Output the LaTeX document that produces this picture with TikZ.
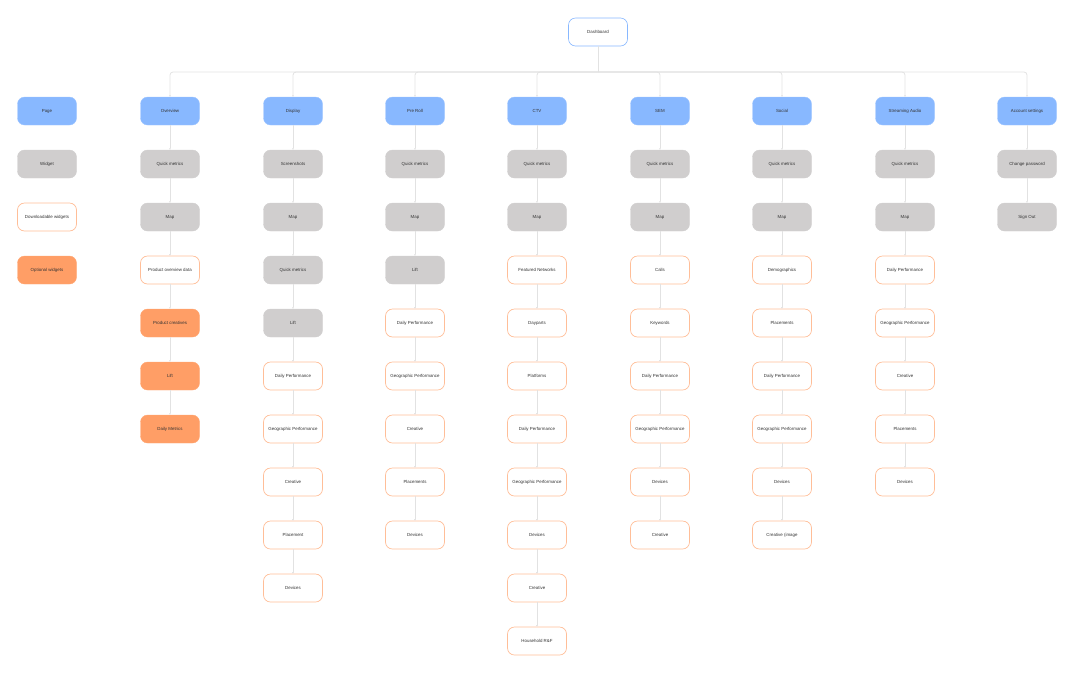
\documentclass[tikz,border=0pt]{standalone}
\usepackage{fontspec}
\setmainfont{Liberation Sans}
\usetikzlibrary{arrows.meta}
\definecolor{cblue}{HTML}{88B8FF}
\definecolor{cgray}{HTML}{D0CECE}
\definecolor{corange}{HTML}{FF9E66}
\definecolor{cborder}{HTML}{FFBE98}
\definecolor{cline}{HTML}{E2E2E2}
\definecolor{ctext}{HTML}{333333}
\begin{document}
\begin{tikzpicture}[x=1pt,y=-1pt,
 box/.style={rounded corners=7pt,minimum width=59pt,minimum height=28pt,inner sep=0pt,font=\fontsize{4.4}{5}\selectfont,text=ctext},
 pg/.style={box,fill=cblue,draw=cblue!80},
 wg/.style={box,fill=cgray,draw=cgray},
 dl/.style={box,fill=white,draw=cborder,line width=0.7pt},
 op/.style={box,fill=corange,draw=corange!90},
 ln/.style={draw=cline,line width=0.8pt,-{Triangle[length=1.5pt,width=2pt]}}]
\useasboundingbox (0,0) rectangle (1075,673);
\node[box,fill=white,draw=cblue,line width=0.6pt] (dash) at (598,32) {Dashboard};
% legend
\node[pg] (l1) at (47,111) {Page};
\node[wg] (l2) at (47,164) {Widget};
\node[dl] (l3) at (47,217) {Downloadable widgets};
\node[op] (l4) at (47,270) {Optional widgets};
\newcommand{\col}[3]{% name, x, list
 \foreach [count=\i] \st/\t in {#3} {
   \pgfmathsetmacro{\yy}{111+53*(\i-1)}
   \node[\st] (#1\i) at (#2,\yy) {\t};
 }}
\col{a}{170}{pg/Overview,wg/Quick metrics,wg/Map,dl/Product overview data,op/Product creatives,op/Lift,op/Daily Metrics}
\col{b}{293}{pg/Display,wg/Screenshots,wg/Map,wg/Quick metrics,wg/Lift,dl/Daily Performance,dl/Geographic Performance,dl/Creative,dl/Placement,dl/Devices}
\col{c}{415}{pg/Pre Roll,wg/Quick metrics,wg/Map,wg/Lift,dl/Daily Performance,dl/Geographic Performance,dl/Creative,dl/Placements,dl/Devices}
\col{d}{537}{pg/CTV / OTT,wg/Quick metrics,wg/Map,dl/Featured Networks,dl/Dayparts,dl/Platforms,dl/Daily Performance,dl/Geographic Performance,dl/Devices,dl/Creative,dl/Household R\&F}
\col{e}{660}{pg/SEM,wg/Quick metrics,wg/Map,dl/Calls,dl/Keywords,dl/Daily Performance,dl/Geographic Performance,dl/Devices,dl/Creative}
\col{f}{782}{pg/Social,wg/Quick metrics,wg/Map,dl/Demographics,dl/Placements,dl/Daily Performance,dl/Geographic Performance,dl/Devices,dl/Creative (image/video)}
\col{g}{905}{pg/Streaming Audio,wg/Quick metrics,wg/Map,dl/Daily Performance,dl/Geographic Performance,dl/Creative,dl/Placements,dl/Devices}
\col{h}{1027}{pg/Account settings,wg/Change password,wg/Sign Out}
% connectors
\foreach \c/\n in {a/7,b/10,c/9,d/11,e/9,f/9,g/8,h/3} {
  \foreach \i [evaluate=\i as \j using int(\i+1)] in {1,...,\numexpr\n-1\relax} {
    \draw[ln] (\c\i) -- (\c\j);
  }
}
\coordinate (bus) at (598,72);
\draw[draw=cline,line width=0.8pt] (dash.south) -- (bus);
\foreach \c in {a,b,c,d,e,f,g,h} {
  \draw[ln,rounded corners=3pt] (bus) -| (\c1.north);
}
\end{tikzpicture}
\end{document}
